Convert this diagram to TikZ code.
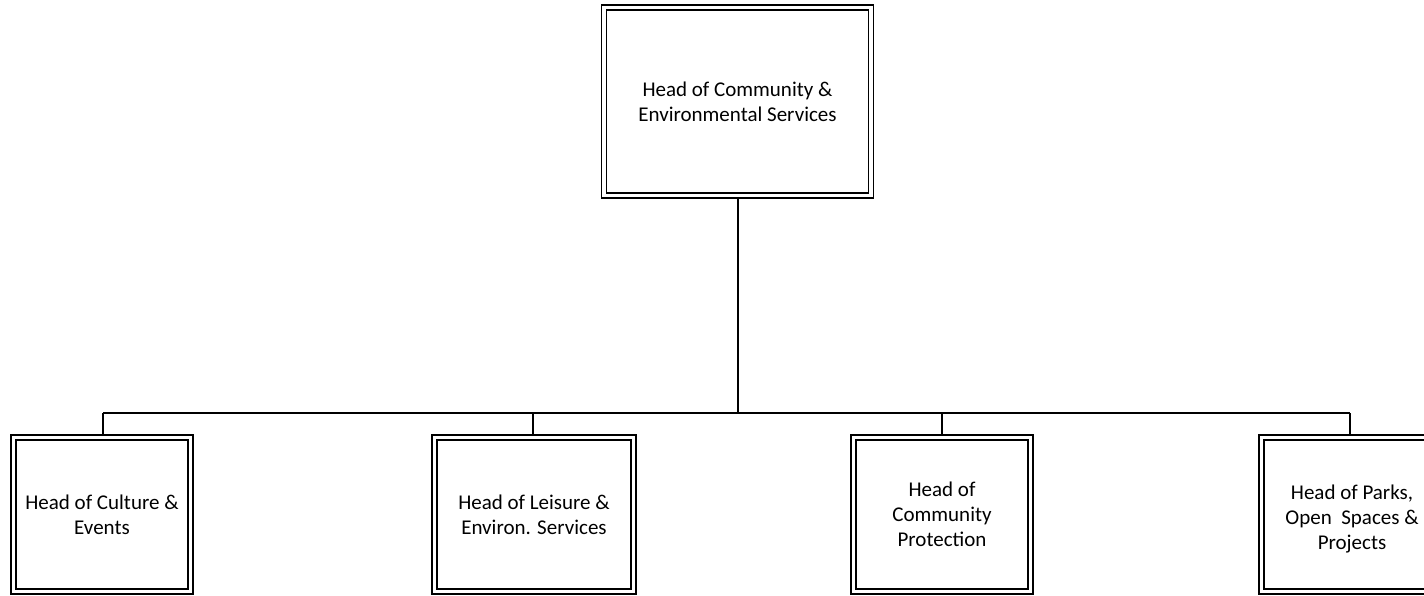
\documentclass[tikz,border=0pt]{standalone}
\usepackage{fontspec}
\setmainfont{Carlito}
\begin{document}
\begin{tikzpicture}[x=1pt,y=-1pt,
  post/.style={draw, line width=1.5pt, double, double distance=3.5pt,
    rectangle, inner sep=0pt, outer sep=3.25pt, align=center,
    font=\fontsize{21}{24.8}\selectfont},
  link/.style={line width=1.6pt}]
\useasboundingbox (0,0) rectangle (1424,595);
\clip (0,0) rectangle (1424,595);

% top post
\node[post, minimum width=266.6pt, minimum height=188pt,
  font=\fontsize{21}{25}\selectfont] (head) at (737.5,101.5)
  {Head of Community \&\\Environmental Services};

% second level posts
\node[post, minimum width=177pt, minimum height=154pt] (culture) at (102,514.5)
  {Head of Culture \&\\Events};
\node[post, minimum width=199pt, minimum height=154pt] (leisure) at (534,514.5)
  {Head of Leisure \&\\Environ. Services};
\node[post, minimum width=177pt, minimum height=154pt] (protect) at (942,514.5)
  {Head of\\Community\\Protection};
\node[post, minimum width=181pt, minimum height=154pt] (parks) at (1352,514.5)
  {\rule{0pt}{23pt}Head of Parks,\\Open~ Spaces \&\\Projects};

% bus line and drops
\coordinate (bus) at (737.5,413);
\coordinate (j1) at (103,413);
\coordinate (j2) at (533,413);
\coordinate (j3) at (942,413);
\coordinate (j4) at (1350,413);
\draw[line width=2pt] (head.south) -- (bus);
\draw[link] (j1) -- (j4);
\draw[link] (j1) -- (j1 |- culture.north);
\draw[link] (j2) -- (j2 |- leisure.north);
\draw[link] (j3) -- (j3 |- protect.north);
\draw[link] (j4) -- (j4 |- parks.north);
\end{tikzpicture}
\end{document}
